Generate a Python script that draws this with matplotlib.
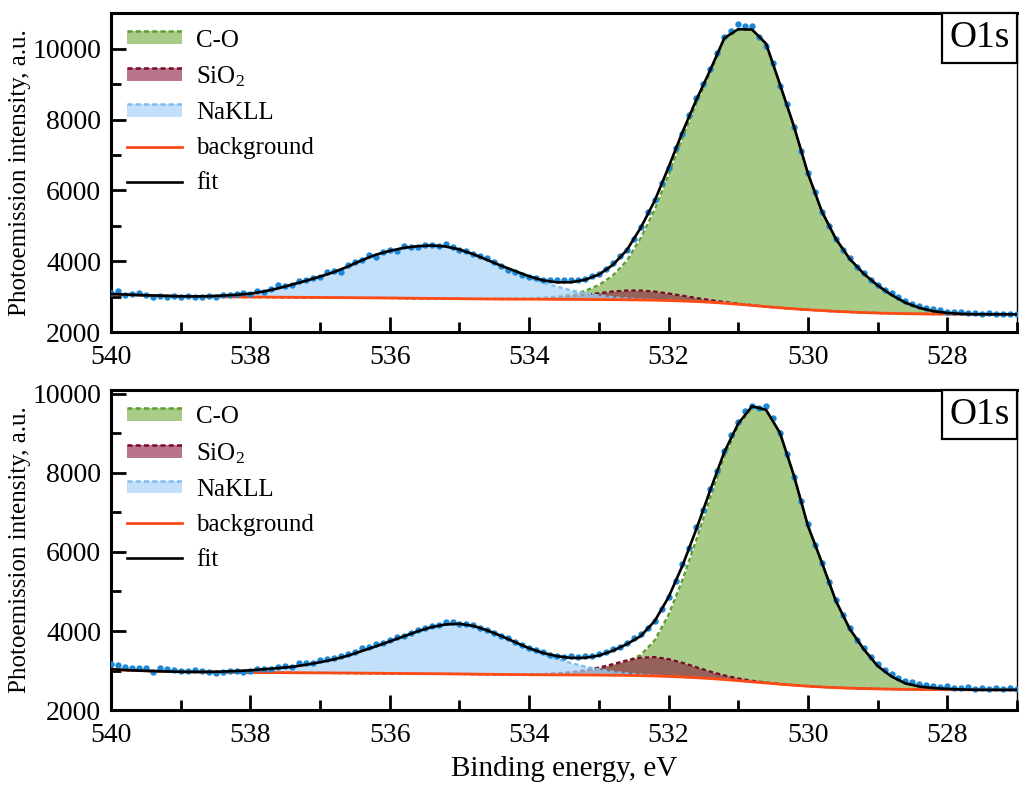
import numpy as np
import matplotlib

matplotlib.use("Agg")
import matplotlib.pyplot as plt
from matplotlib.ticker import MultipleLocator
from matplotlib.legend_handler import HandlerBase
from matplotlib.patches import Rectangle
from matplotlib.lines import Line2D
from matplotlib.offsetbox import AnchoredText

plt.rcParams["font.family"] = ["Liberation Serif", "DejaVu Serif"]
plt.rcParams["mathtext.fontset"] = "custom"
plt.rcParams["mathtext.rm"] = "Liberation Serif"
plt.rcParams["mathtext.it"] = "Liberation Serif:italic"

# ---- energy grids (eV) ----
E_DATA = [
    540.0, 539.9, 539.8, 539.7, 539.6, 539.5, 539.4, 539.3, 539.2, 539.1,
    539.0, 538.9, 538.8, 538.7, 538.6, 538.5, 538.4, 538.3, 538.2, 538.1,
    538.0, 537.9, 537.8, 537.7, 537.6, 537.5, 537.4, 537.3, 537.2, 537.1,
    537.0, 536.9, 536.8, 536.7, 536.6, 536.5, 536.4, 536.3, 536.2, 536.1,
    536.0, 535.9, 535.8, 535.7, 535.6, 535.5, 535.4, 535.3, 535.2, 535.1,
    535.0, 534.9, 534.8, 534.7, 534.6, 534.5, 534.4, 534.3, 534.2, 534.1,
    534.0, 533.9, 533.8, 533.7, 533.6, 533.5, 533.4, 533.3, 533.2, 533.1,
    533.0, 532.9, 532.8, 532.7, 532.6, 532.5, 532.4, 532.3, 532.2, 532.1,
    532.0, 531.9, 531.8, 531.7, 531.6, 531.5, 531.4, 531.3, 531.2, 531.1,
    531.0, 530.9, 530.8, 530.7, 530.6, 530.5, 530.4, 530.3, 530.2, 530.1,
    530.0, 529.9, 529.8, 529.7, 529.6, 529.5, 529.4, 529.3, 529.2, 529.1,
    529.0, 528.9, 528.8, 528.7, 528.6, 528.5, 528.4, 528.3, 528.2, 528.1,
    528.0, 527.9, 527.8, 527.7, 527.6, 527.5, 527.4, 527.3, 527.2, 527.1,
    527.0,
]
E_FIT = [
    540.0, 539.8, 539.6, 539.4, 539.2, 539.0, 538.8, 538.6, 538.4, 538.2,
    538.0, 537.8, 537.6, 537.4, 537.2, 537.0, 536.8, 536.6, 536.4, 536.2,
    536.0, 535.8, 535.6, 535.4, 535.2, 535.0, 534.8, 534.6, 534.4, 534.2,
    534.0, 533.8, 533.6, 533.4, 533.2, 533.0, 532.8, 532.6, 532.4, 532.2,
    532.0, 531.8, 531.6, 531.4, 531.2, 531.0, 530.8, 530.6, 530.4, 530.2,
    530.0, 529.8, 529.6, 529.4, 529.2, 529.0, 528.8, 528.6, 528.4, 528.2,
    528.0, 527.8, 527.6, 527.4, 527.2, 527.0,
]

# ---- top spectrum ----
top_data = [
    3090, 3150, 3040, 3080, 3090, 3050, 2990, 3030, 3000, 3010,
    2980, 3020, 2990, 2995, 3030, 3000, 3040, 3045, 3070, 3090,
    3080, 3150, 3140, 3210, 3330, 3290, 3330, 3450, 3470, 3520,
    3560, 3690, 3720, 3700, 3900, 3980, 4030, 4180, 4120, 4260,
    4330, 4300, 4420, 4390, 4410, 4460, 4470, 4420, 4490, 4390,
    4330, 4290, 4200, 4150, 4090, 3980, 3860, 3760, 3700, 3620,
    3560, 3520, 3470, 3470, 3460, 3460, 3460, 3480, 3500, 3590,
    3650, 3790, 3940, 4140, 4320, 4640, 4980, 5380, 5740, 6220,
    6640, 7200, 7580, 8140, 8600, 9010, 9440, 9880, 10320, 10490,
    10690, 10650, 10630, 10320, 10090, 9600, 8960, 8450, 7780, 7120,
    6500, 5960, 5380, 4990, 4640, 4320, 4080, 3840, 3660, 3470,
    3340, 3200, 3100, 2990, 2880, 2800, 2740, 2690, 2640, 2610,
    2580, 2570, 2560, 2540, 2530, 2520, 2530, 2510, 2515, 2520,
    2510,
]
top_bg = [
    3075, 3060, 3045, 3032, 3020, 3010, 3003, 2998, 2995, 2992,
    2990, 2988, 2985, 2982, 2980, 2977, 2974, 2971, 2968, 2965,
    2962, 2958, 2954, 2950, 2946, 2942, 2938, 2935, 2932, 2930,
    2928, 2926, 2924, 2922, 2920, 2918, 2915, 2911, 2906, 2899,
    2890, 2878, 2862, 2842, 2815, 2785, 2752, 2718, 2686, 2656,
    2630, 2606, 2585, 2566, 2550, 2537, 2527, 2519, 2513, 2509,
    2506, 2504, 2503, 2502, 2501, 2500,
]
top_co = [
    0, 0, 0, 0, 0, 0, 0, 0, 0, 0,
    0, 0, 0, 0, 0, 0, 0, 0, 0, 0,
    0, 0, 0, 0, 0, 0, 0, 0, 10, 18,
    25, 45, 80, 140, 240, 410, 680, 1100, 1750, 2550,
    3560, 4620, 5600, 6500, 7450, 7750, 7780, 7420, 6300, 5150,
    3850, 2800, 2050, 1500, 1100, 780, 520, 310, 170, 80,
    35, 10, 0, 0, 0, 0,
]
top_sio2 = [
    0, 0, 0, 0, 0, 0, 0, 0, 0, 0,
    0, 0, 0, 0, 0, 0, 0, 0, 0, 0,
    0, 0, 0, 0, 0, 0, 0, 0, 0, 5,
    10, 20, 45, 85, 135, 180, 230, 262, 268, 245,
    200, 150, 100, 62, 35, 18, 9, 4, 0, 0,
    0, 0, 0, 0, 0, 0, 0, 0, 0, 0,
    0, 0, 0, 0, 0, 0,
]
top_nakll = [
    0, 0, 0, 0, 0, 0, 5, 15, 35, 60,
    95, 160, 250, 360, 470, 590, 720, 880, 1060, 1220,
    1330, 1420, 1470, 1495, 1470, 1390, 1260, 1100, 930, 770,
    610, 470, 355, 260, 180, 115, 70, 38, 18, 8,
    3, 0, 0, 0, 0, 0, 0, 0, 0, 0,
    0, 0, 0, 0, 0, 0, 0, 0, 0, 0,
    0, 0, 0, 0, 0, 0,
]

# ---- bottom spectrum ----
bot_data = [
    3160, 3130, 3080, 3070, 3075, 3070, 2970, 3070, 3040, 3020,
    3000, 2990, 3010, 2990, 2950, 2930, 2960, 2980, 2990, 2970,
    2990, 3040, 3050, 3040, 3090, 3110, 3100, 3180, 3190, 3200,
    3270, 3290, 3310, 3360, 3420, 3480, 3560, 3600, 3680, 3700,
    3780, 3850, 3880, 3950, 4020, 4080, 4120, 4150, 4240, 4230,
    4190, 4180, 4150, 4080, 4030, 3960, 3870, 3820, 3730, 3650,
    3580, 3530, 3460, 3400, 3380, 3350, 3360, 3330, 3360, 3380,
    3420, 3470, 3540, 3600, 3700, 3820, 3920, 4080, 4260, 4560,
    4860, 5260, 5700, 6100, 6620, 7050, 7600, 8060, 8560, 8960,
    9280, 9580, 9700, 9650, 9700, 9380, 9020, 8480, 7900, 7300,
    6700, 6180, 5720, 5230, 4780, 4400, 4080, 3780, 3560, 3340,
    3160, 3020, 2900, 2810, 2740, 2700, 2660, 2640, 2600, 2590,
    2600, 2560, 2570, 2580, 2540, 2550, 2520, 2560, 2540, 2550,
    2520,
]
bot_bg = [
    3030, 3012, 2998, 2986, 2976, 2968, 2962, 2957, 2954, 2952,
    2950, 2948, 2946, 2944, 2942, 2940, 2938, 2936, 2934, 2931,
    2928, 2925, 2922, 2919, 2916, 2913, 2909, 2905, 2901, 2897,
    2894, 2892, 2890, 2888, 2886, 2884, 2881, 2877, 2871, 2862,
    2850, 2836, 2818, 2797, 2772, 2744, 2714, 2684, 2655, 2628,
    2604, 2584, 2567, 2554, 2543, 2535, 2529, 2524, 2520, 2517,
    2515, 2513, 2512, 2511, 2510, 2510,
]
bot_co = [
    0, 0, 0, 0, 0, 0, 0, 0, 0, 0,
    0, 0, 0, 0, 0, 0, 0, 0, 0, 0,
    0, 0, 0, 0, 0, 0, 0, 0, 3, 6,
    10, 15, 35, 60, 100, 160, 250, 360, 520, 900,
    1560, 2460, 3500, 4600, 5650, 6450, 6950, 6900, 6350, 5300,
    4060, 3150, 2200, 1500, 1000, 580, 320, 150, 75, 40,
    20, 8, 0, 0, 0, 0,
]
bot_sio2 = [
    0, 0, 0, 0, 0, 0, 0, 0, 0, 0,
    0, 0, 0, 0, 0, 0, 0, 0, 0, 0,
    0, 0, 0, 0, 0, 0, 0, 0, 0, 3,
    9, 17, 38, 70, 120, 190, 280, 380, 455, 478,
    440, 360, 265, 175, 105, 55, 27, 12, 5, 0,
    0, 0, 0, 0, 0, 0, 0, 0, 0, 0,
    0, 0, 0, 0, 0, 0,
]
bot_nakll = [
    0, 0, 0, 0, 0, 0, 5, 10, 20, 35,
    55, 85, 115, 150, 205, 270, 345, 440, 560, 680,
    810, 940, 1070, 1180, 1250, 1270, 1220, 1110, 970, 810,
    650, 520, 400, 300, 215, 145, 90, 50, 25, 10,
    4, 0, 0, 0, 0, 0, 0, 0, 0, 0,
    0, 0, 0, 0, 0, 0, 0, 0, 0, 0,
    0, 0, 0, 0, 0, 0,
]

CO_FACE, CO_EDGE = "#a8cc88", "#5c9b2e"
SIO2_FACE, SIO2_EDGE = "#8b1a3a", "#7a0a28"
NA_FACE, NA_EDGE = "#a8d4f7", "#7fbdf0"
DASH = (0, (2.0, 1.3))


class FillSwatch:
    def __init__(self, face, edge, alpha):
        self.face, self.edge, self.alpha = face, edge, alpha


class FillSwatchHandler(HandlerBase):
    # filled box with a dashed line along its top edge
    def create_artists(self, legend, orig_handle, xdescent, ydescent,
                       width, height, fontsize, trans):
        x0, y0 = -xdescent, -ydescent
        rect = Rectangle((x0, y0), width, height, facecolor=orig_handle.face,
                         edgecolor="none", alpha=orig_handle.alpha,
                         transform=trans)
        line = Line2D([x0, x0 + width], [y0 + height, y0 + height],
                      color=orig_handle.edge, ls=DASH, lw=1.8, transform=trans)
        return [rect, line]


def draw_panel(ax, data, bg, co, sio2, nakll, ymax):
    bg = np.array(bg, dtype=float)
    co = np.array(co, dtype=float)
    sio2 = np.array(sio2, dtype=float)
    nakll = np.array(nakll, dtype=float)
    fit = bg + co + sio2 + nakll

    ax.fill_between(E_FIT, bg, bg + co, color=CO_FACE, lw=0, zorder=1)
    ax.plot(E_FIT, bg + co, color=CO_EDGE, ls=DASH, lw=1.6, zorder=2)
    ax.fill_between(E_FIT, bg, bg + sio2, color=SIO2_FACE, alpha=0.6, lw=0, zorder=3)
    ax.plot(E_FIT, bg + sio2, color=SIO2_EDGE, ls=DASH, lw=1.6, zorder=4)
    ax.fill_between(E_FIT, bg, bg + nakll, color=NA_FACE, alpha=0.7, lw=0, zorder=5)
    ax.plot(E_FIT, bg + nakll, color=NA_EDGE, ls=DASH, lw=1.6, zorder=6)
    ax.plot(E_FIT, bg, color="#ff4a14", lw=2.0, zorder=7)
    ax.plot(E_DATA, data, "o", color="#1a88d6", ms=4.6, mec="none", zorder=8)
    ax.plot(E_FIT, fit, color="black", lw=1.9, zorder=9)

    ax.set_xlim(540, 527)
    ax.set_ylim(2000, ymax)
    ax.xaxis.set_major_locator(MultipleLocator(2))
    ax.xaxis.set_minor_locator(MultipleLocator(1))
    ax.yaxis.set_major_locator(MultipleLocator(2000))
    ax.yaxis.set_minor_locator(MultipleLocator(1000))
    ax.tick_params(which="both", direction="in", width=2, labelsize=20,
                   top=False, right=False)
    ax.tick_params(which="major", length=11)
    ax.tick_params(which="minor", length=7)
    ax.tick_params(axis="x", pad=9)
    ax.tick_params(axis="y", pad=7)
    for side in ["left", "bottom", "top"]:
        ax.spines[side].set_linewidth(2.2)
    ax.spines["right"].set_linewidth(1.0)
    ax.set_ylabel("Photoemission intensity, a.u.", fontsize=18)
    ax.yaxis.set_label_coords(-0.088, 0.5)

    handles = [
        FillSwatch(CO_FACE, CO_EDGE, 1.0),
        FillSwatch(SIO2_FACE, SIO2_EDGE, 0.6),
        FillSwatch(NA_FACE, NA_EDGE, 0.7),
        Line2D([], [], color="#ff4a14", lw=2.0),
        Line2D([], [], color="black", lw=1.9),
    ]
    labels = ["C-O", "SiO$_2$", "NaKLL", "background", "fit"]
    ax.legend(handles, labels, loc="upper left", frameon=False, fontsize=18,
              handler_map={FillSwatch: FillSwatchHandler()},
              handlelength=2.2, handleheight=0.4, handletextpad=0.55,
              labelspacing=0.52, borderaxespad=0.3, borderpad=0.35)

    tag = AnchoredText("O1s", loc="upper right", frameon=True, borderpad=0,
                       pad=0.2, prop=dict(size=27))
    tag.patch.set_linewidth(1.6)
    tag.patch.set_boxstyle("square,pad=0")
    ax.add_artist(tag)


fig = plt.figure(figsize=(10.19, 7.85), dpi=100)
ax_top = fig.add_axes([0.109, 0.577, 0.889, 0.406])
ax_bot = fig.add_axes([0.109, 0.0955, 0.889, 0.4077])

draw_panel(ax_top, top_data, top_bg, top_co, top_sio2, top_nakll, 11000)
draw_panel(ax_bot, bot_data, bot_bg, bot_co, bot_sio2, bot_nakll, 10100)
ax_bot.set_xlabel("Binding energy, eV", fontsize=21, labelpad=6)

fig.savefig("out.png", dpi=100)
